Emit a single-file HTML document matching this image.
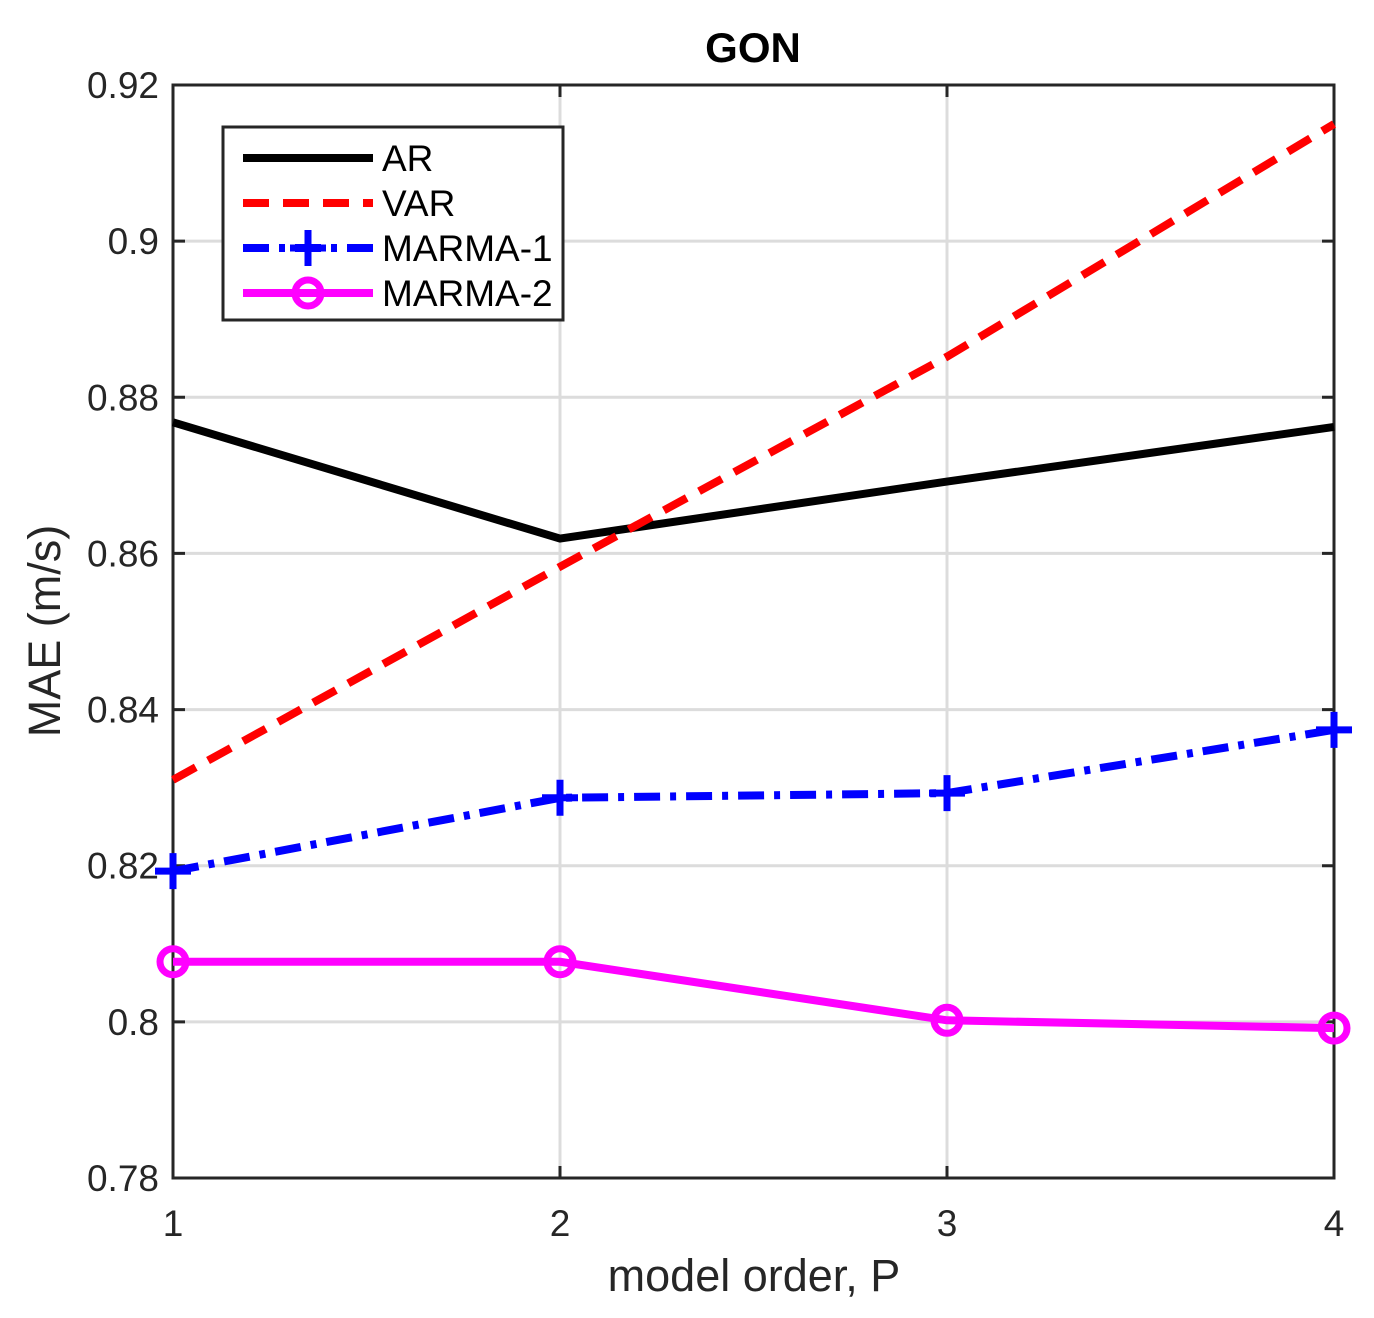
<!DOCTYPE html>
<html><head><meta charset="utf-8"><style>
body{margin:0;background:#fff;}
svg{display:block;font-family:"Liberation Sans",Arial,sans-serif;}
</style></head><body>
<svg id="chart" width="1374" height="1318" viewBox="0 0 1374 1318" xmlns="http://www.w3.org/2000/svg">
<rect width="1374" height="1318" fill="#fff"/>
<g id="grid"></g>
<g id="axes"></g>
<g id="series"></g>
<text x="753" y="62" text-anchor="middle" font-size="42" font-weight="bold" fill="#000">GON</text>
<text x="754" y="1291" text-anchor="middle" font-size="45" fill="#262626">model order, P</text>
<text transform="translate(60,631) rotate(-90)" text-anchor="middle" font-size="45" fill="#262626">MAE (m/s)</text>
<g id="legend">
<rect x="223" y="127" width="340" height="193" fill="#fff" stroke="#262626" stroke-width="3"/>
</g>
</svg>
<script>
const categories=[1,2,3,4];
const arValues=[0.8768,0.8619,0.8692,0.8762];
const varValues=[0.8310,0.8583,0.8852,0.9150];
const marma1Values=[0.8193,0.8287,0.8293,0.8374];
const marma2Values=[0.8077,0.8077,0.8002,0.7992];
const yTicks=[0.78,0.8,0.82,0.84,0.86,0.88,0.9,0.92];
const yTickLabels=["0.78","0.8","0.82","0.84","0.86","0.88","0.9","0.92"];
const xTickLabels=["1","2","3","4"];

const NS="http://www.w3.org/2000/svg";
const L=173,R=1334,T=85,B=1178;
const xs=v=>L+(v-1)/(4-1)*(R-L);
const ys=v=>B-(v-0.78)/(0.92-0.78)*(B-T);
function mk(tag,attrs,parent){const e=document.createElementNS(NS,tag);for(const k in attrs)e.setAttribute(k,attrs[k]);parent.appendChild(e);return e;}
const grid=document.getElementById('grid'),axes=document.getElementById('axes'),series=document.getElementById('series'),legend=document.getElementById('legend');

yTicks.forEach((t,i)=>{
 const y=ys(t);
 const g=mk('line',{x1:L,x2:R,y1:y,y2:y,stroke:'#dcdcdc','stroke-width':3},grid);
 
 
 const tk=mk('path',{d:`M${L} ${y}h12M${R} ${y}h-12`,stroke:'#262626','stroke-width':3},axes);
 
 
 const tx=mk('text',{x:L-14,y:y+13,'text-anchor':'end','font-size':37,fill:'#262626'},axes);
 tx.textContent=yTickLabels[i];
 
 
});
categories.forEach((c,i)=>{
 const x=xs(c);
 const g=mk('line',{x1:x,x2:x,y1:T,y2:B,stroke:'#dcdcdc','stroke-width':3},grid);
 
 
 const tk=mk('path',{d:`M${x} ${B}v-12M${x} ${T}v12`,stroke:'#262626','stroke-width':3},axes);
 
 
 const tx=mk('text',{x:x,y:B+58,'text-anchor':'middle','font-size':37,fill:'#262626'},axes);
 tx.textContent=xTickLabels[i];
 
 
});
const box=mk('rect',{x:L,y:T,width:R-L,height:B-T,fill:'none',stroke:'#262626','stroke-width':3},axes);



function drawLine(vals,color,dash,name,marker){
 const pts=vals.map((v,i)=>[xs(categories[i]),ys(v)]);
 const p=mk('polyline',{points:pts.map(q=>q.join(',')).join(' '),fill:'none',stroke:color,'stroke-width':8,'stroke-dasharray':dash,'stroke-linejoin':'round'},series);
 
 
 pts.forEach(q=>{
  if(marker==='plus'){
   const m=mk('path',{d:`M${q[0]-18} ${q[1]}h36M${q[0]} ${q[1]-18}v36`,stroke:color,'stroke-width':7},series);
   
   
  }else if(marker==='circle'){
   const m=mk('circle',{cx:q[0],cy:q[1],r:13,fill:'none',stroke:color,'stroke-width':7},series);
   
   
  }
 });
}
drawLine(arValues,'#000','none','ar',null);
drawLine(varValues,'#ff0000','26 14','var',null);
drawLine(marma1Values,'#0000ff','26 10 6 10','marma-1','plus');
drawLine(marma2Values,'#ff00ff','none','marma-2','circle');

const leg=[["AR",'#000','none',null],["VAR",'#ff0000','26 14',null],["MARMA-1",'#0000ff','26 10 6 10','plus'],["MARMA-2",'#ff00ff','none','circle']];
leg.forEach((e,i)=>{
 const y=158+i*45;
 const g=mk('g',{},legend);
 
 
 mk('line',{x1:243,x2:373,y1:y,y2:y,stroke:e[1],'stroke-width':8,'stroke-dasharray':e[2]},g);
 if(e[3]==='plus')mk('path',{d:`M${290} ${y}h36M308 ${y-18}v36`,stroke:e[1],'stroke-width':7},g);
 if(e[3]==='circle')mk('circle',{cx:308,cy:y,r:13,fill:'none',stroke:e[1],'stroke-width':7},g);
 const t=mk('text',{x:382,y:y+13,'font-size':37,fill:'#000'},g);
 t.textContent=e[0];
});
</script>
</body></html>
